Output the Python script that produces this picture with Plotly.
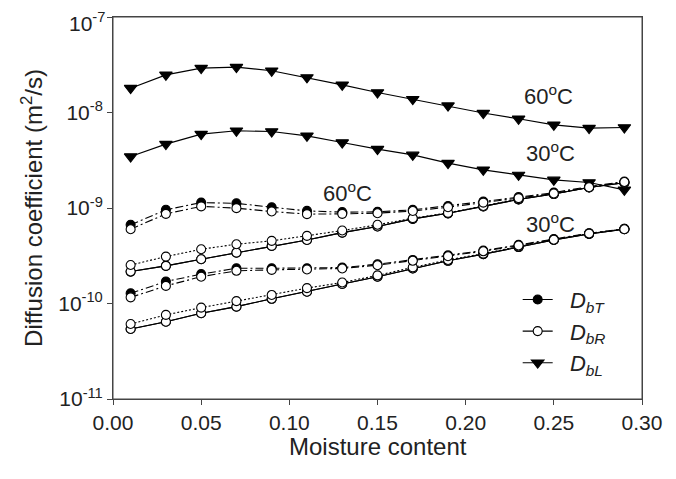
import math
import plotly.graph_objects as go

moisture = [0.01, 0.03, 0.05, 0.07, 0.09, 0.11, 0.13, 0.15, 0.17, 0.19, 0.21, 0.23, 0.25, 0.27, 0.29]

# Longitudinal diffusion coefficient
dbl_60 = [1.80e-8, 2.48e-8, 2.92e-8, 2.99e-8, 2.74e-8, 2.33e-8, 1.95e-8, 1.62e-8,
          1.38e-8, 1.18e-8, 9.87e-9, 8.6e-9, 7.43e-9, 6.87e-9, 6.97e-9]
dbl_30 = [3.46e-9, 4.67e-9, 5.94e-9, 6.44e-9, 6.33e-9, 5.70e-9, 4.85e-9, 4.14e-9,
          3.6e-9, 2.95e-9, 2.51e-9, 2.22e-9, 1.97e-9, 1.85e-9, 1.55e-9]

# 60 C, dash-dot pair
dbt_60_a = [6.67e-10, 9.58e-10, 1.14e-9, 1.12e-9, 1.02e-9, 9.33e-10, 9.05e-10, 9.12e-10,
            9.57e-10, 1.05e-9, 1.17e-9, 1.30e-9, 1.45e-9, 1.68e-9, 1.89e-9]
dbr_60_a = [6.0e-10, 8.69e-10, 1.04e-9, 9.97e-10, 9.19e-10, 8.63e-10, 8.69e-10, 8.83e-10,
            9.3e-10, 1.02e-9, 1.14e-9, 1.27e-9, 1.42e-9, 1.65e-9, 1.87e-9]
# 60 C, dotted / solid pair
dbr_60_dot = [2.53e-10, 3.10e-10, 3.70e-10, 4.18e-10, 4.53e-10, 5.11e-10, 5.81e-10, 6.67e-10,
              7.83e-10, 8.89e-10, 1.05e-9, 1.24e-9, 1.41e-9, 1.65e-9, 1.85e-9]
dbr_60_sol = [2.16e-10, 2.48e-10, 2.91e-10, 3.41e-10, 4.01e-10, 4.63e-10, 5.53e-10, 6.40e-10,
              7.7e-10, 8.8e-10, 1.04e-9, 1.23e-9, 1.40e-9, 1.64e-9, 1.84e-9]

# 30 C, dash-dot pair
dbt_30_a = [1.28e-10, 1.70e-10, 2.03e-10, 2.34e-10, 2.34e-10, 2.34e-10, 2.38e-10, 2.58e-10,
            2.86e-10, 3.19e-10, 3.58e-10, 4.11e-10, 4.72e-10, 5.45e-10, 6.05e-10]
dbr_30_a = [1.16e-10, 1.53e-10, 1.91e-10, 2.20e-10, 2.25e-10, 2.27e-10, 2.33e-10, 2.52e-10,
            2.80e-10, 3.13e-10, 3.52e-10, 4.05e-10, 4.66e-10, 5.40e-10, 6.0e-10]
# 30 C, dotted / solid pair
dbr_30_dot = [6.1e-11, 7.6e-11, 9.05e-11, 1.06e-10, 1.23e-10, 1.45e-10, 1.66e-10, 1.97e-10,
              2.39e-10, 2.86e-10, 3.33e-10, 3.95e-10, 4.68e-10, 5.40e-10, 6.05e-10]
dbr_30_sol = [5.41e-11, 6.45e-11, 7.9e-11, 9.27e-11, 1.12e-10, 1.33e-10, 1.60e-10, 1.91e-10,
              2.33e-10, 2.80e-10, 3.28e-10, 3.90e-10, 4.62e-10, 5.35e-10, 6.0e-10]

legend_names = ["<i>D</i><sub><i>bT</i></sub>", "<i>D</i><sub><i>bR</i></sub>", "<i>D</i><sub><i>bL</i></sub>"]

x_ticks = [0, 0.05, 0.10, 0.15, 0.20, 0.25, 0.30]
x_tick_text = ["0.00", "0.05", "0.10", "0.15", "0.20", "0.25", "0.30"]
y_ticks = [1e-11, 1e-10, 1e-9, 1e-8, 1e-7]
y_tick_text = ["10<sup>-11</sup>", "10<sup>-10</sup>", "10<sup>-9</sup>", "10<sup>-8</sup>", "10<sup>-7</sup>"]

# temperature labels: (text, moisture, diffusion coefficient)
labels = [("60<sup>o</sup>C", 0.247, 1.53e-8),
          ("30<sup>o</sup>C", 0.248, 3.88e-9),
          ("60<sup>o</sup>C", 0.133, 1.48e-9),
          ("30<sup>o</sup>C", 0.248, 7.0e-10)]

FONT = "Liberation Sans, Arial, sans-serif"
DASHDOT = "8px,3px,2px,3px"
DOT = "2px,2px"

fig = go.Figure()


def add(y, filled, dash, symbol="circle", size=9):
    fig.add_trace(go.Scatter(
        x=moisture, y=y, mode="lines+markers", showlegend=False,
        line=dict(color="black", width=1.1, dash=dash),
        marker=dict(symbol=symbol, size=size,
                    color="black" if filled else "white",
                    line=dict(color="black", width=1.1)),
    ))


add(dbl_60, True, "solid", "triangle-down", 11)
add(dbl_30, True, "solid", "triangle-down", 11)
add(dbr_60_sol, True, "solid")
add(dbr_60_sol, False, "solid")
add(dbr_60_dot, False, DOT)
add(dbt_60_a, True, DASHDOT)
add(dbr_60_a, False, DASHDOT)
add(dbr_30_sol, True, "solid")
add(dbr_30_sol, False, "solid")
add(dbr_30_dot, False, DOT)
add(dbt_30_a, True, DASHDOT)
add(dbr_30_a, False, DASHDOT)

for name, filled, sym, sz in [(legend_names[0], True, "circle", 9),
                              (legend_names[1], False, "circle", 9),
                              (legend_names[2], True, "triangle-down", 11)]:
    fig.add_trace(go.Scatter(
        x=[None], y=[None], mode="lines+markers", name="&nbsp;&nbsp;" + name,
        line=dict(color="black", width=1.1),
        marker=dict(symbol=sym, size=sz, color="black" if filled else "white",
                    line=dict(color="black", width=1.1)),
    ))

for text, xv, yv in labels:
    fig.add_annotation(x=xv, y=math.log10(yv), xref="x", yref="y", text=text, showarrow=False,
                       font=dict(size=22, color="#222", family=FONT))

fig.add_annotation(x=0.5, y=-0.125, xref="paper", yref="paper", text="Moisture content",
                   showarrow=False, yanchor="middle",
                   font=dict(size=24, color="#222", family=FONT))

# top tick label drawn as annotation (nudged down so its superscript stays on the page)
fig.add_annotation(x=0, y=math.log10(y_ticks[-1]), xref="paper", yref="y", text=y_tick_text[-1],
                   showarrow=False, xanchor="right", yanchor="middle", xshift=-6, yshift=-5,
                   font=dict(size=21, color="#222", family=FONT))

# plot frame
fig.add_shape(type="rect", xref="paper", yref="paper", x0=0, x1=1, y0=0, y1=1,
              line=dict(color="#444", width=1), layer="above")

fig.update_layout(
    width=676, height=479,
    margin=dict(l=105, r=42, t=9, b=88),
    paper_bgcolor="white", plot_bgcolor="white",
    font=dict(family=FONT, color="#222", size=21),
    legend=dict(x=0.765, y=0.04, xanchor="left", yanchor="bottom",
                bgcolor="rgba(0,0,0,0)", font=dict(size=22),
                tracegroupgap=0),
)
fig.update_xaxes(
    range=[0, 0.30], tickvals=x_ticks, ticktext=x_tick_text,
    ticks="outside", ticklen=5, tickcolor="#444", showline=True, linecolor="#444",
    linewidth=1, mirror=True, showgrid=False, zeroline=False, automargin=False,
    tickfont=dict(size=21), ticklabeloverflow="allow",
)
fig.update_yaxes(
    type="log", range=[-11, -6.9995], tickvals=y_ticks,
    ticktext=y_tick_text[:-1] + [""],
    ticks="outside", ticklen=5, tickcolor="#444", showline=True, linecolor="#444",
    linewidth=1, mirror=True, showgrid=False, zeroline=False, automargin=False,
    title=dict(text="Diffusion coefficient (m<sup>2</sup>/s)", font=dict(size=24), standoff=8),
    tickfont=dict(size=21), ticklabeloverflow="allow",
)

fig.write_html("out.html")
